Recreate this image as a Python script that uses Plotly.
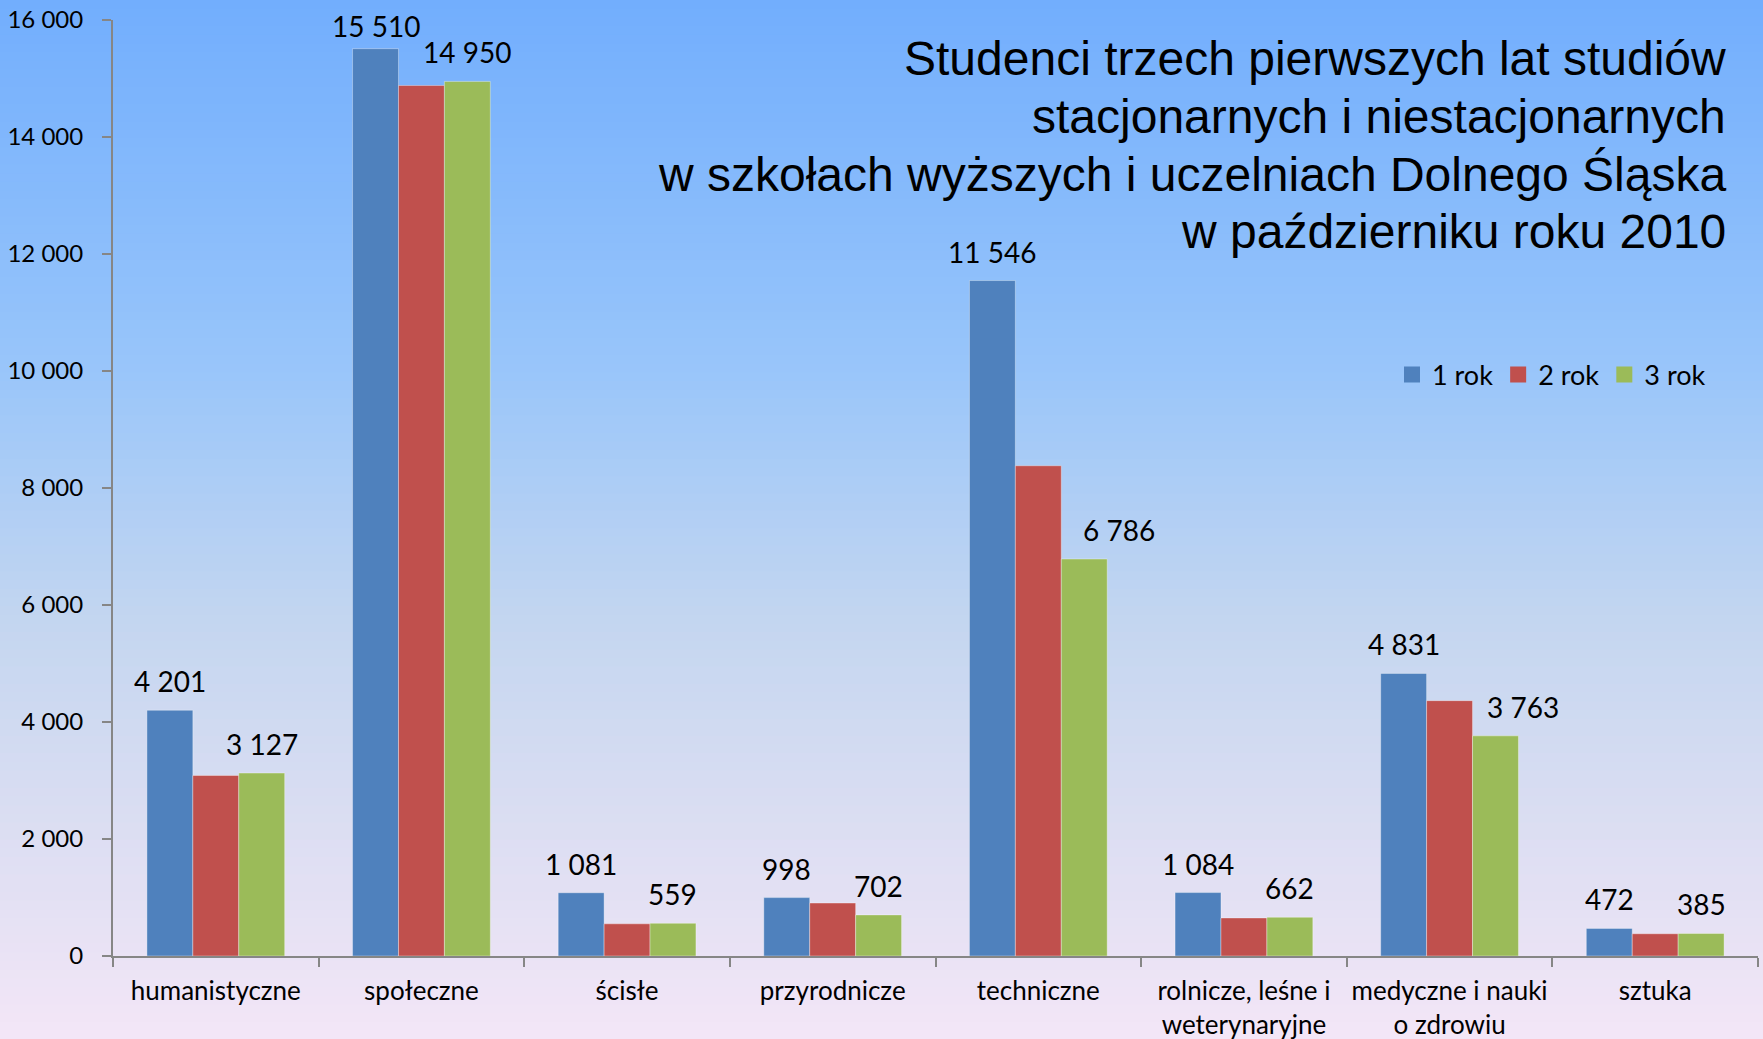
import plotly.graph_objects as go

# ---- data ----
categories = ["humanistyczne", "społeczne", "ścisłe", "przyrodnicze", "techniczne",
              "rolnicze, leśne i<br>weterynaryjne", "medyczne i nauki<br>o zdrowiu", "sztuka"]
series_names = ["1 rok", "2 rok", "3 rok"]
rok1 = [4201, 15510, 1081, 998, 11546, 1084, 4831, 472]
rok2 = [3085, 14880, 550, 905, 8380, 650, 4365, 380]
rok3 = [3127, 14950, 559, 702, 6786, 662, 3763, 385]
y_ticks = [0, 2000, 4000, 6000, 8000, 10000, 12000, 14000, 16000]
title_lines = ["Studenci trzech pierwszych lat studiów",
               "stacjonarnych i niestacjonarnych",
               "w szkołach wyższych i uczelniach Dolnego Śląska",
               "w październiku roku 2010"]

# ---- style ----
W, H = 1763, 1039
ML, MR, MT, MB = 113, 5, 20, 83
colors = ["#4F81BD", "#C0504D", "#9BBB59"]
FONT = "Lato"
bargap = 0.33
# pixel nudges for individual data labels (series index, category index) -> (dx, dy)
label_nudge = {(0, 1): (0, -6), (2, 4): (35, 0), (2, 6): (28, 0)}

plot_w = W - ML - MR
plot_h = H - MT - MB
bar_px = plot_w / len(categories) * (1 - bargap) / 3


def fmt(v):
    return f"{v:,}".replace(",", " ")


def px_x(p):
    return (p - ML) / plot_w


def px_y(p):
    return (H - MB - p) / plot_h


fig = go.Figure()
for name, vals, col in zip(series_names, [rok1, rok2, rok3], colors):
    fig.add_trace(go.Bar(x=categories, y=vals, name=name, marker_color=col,
                         marker_line=dict(color="rgba(255,255,255,0.35)", width=1),
                         showlegend=False))
    fig.add_trace(go.Scatter(x=[None], y=[None], mode="markers", name=name,
                             marker=dict(symbol="square", size=18, color=col)))

# data labels (series 1 and 3)
annotations = []
for si, vals, shift in [(0, rok1, -bar_px), (2, rok3, bar_px)]:
    for ci, (c, v) in enumerate(zip(categories, vals)):
        dx, dy = label_nudge.get((si, ci), (0, 0))
        annotations.append(dict(x=c, y=v, xref="x", yref="y", text=fmt(v), showarrow=False,
                                xshift=shift + dx, yanchor="bottom", yshift=10 + dy,
                                font=dict(family=FONT, size=28, color="black")))

title_centers = [58.5, 116.2, 174.0, 231.6]
for line, cy in zip(title_lines, title_centers):
    annotations.append(dict(xref="paper", yref="paper", x=px_x(1728), y=px_y(cy),
                            xanchor="right", yanchor="middle", align="right",
                            text=line, showarrow=False,
                            font=dict(family="Liberation Sans, Arial", size=48, color="black")))

# gradient background via strips
stops = [(0.0, (114, 174, 253)), (0.35, (152, 197, 250)), (0.6, (196, 214, 240)),
         (0.85, (226, 224, 243)), (1.0, (243, 230, 247))]


def col_at(t):
    for (t0, c0), (t1, c1) in zip(stops[:-1], stops[1:]):
        if t <= t1:
            f = (t - t0) / (t1 - t0)
            return "rgb(%d,%d,%d)" % tuple(round(a + (b - a) * f) for a, b in zip(c0, c1))
    return "rgb(%d,%d,%d)" % stops[-1][1]


shapes = []
N = 120
for i in range(N):
    p0 = H * i / N
    p1 = H * (i + 1) / N + 1
    shapes.append(dict(type="rect", xref="paper", yref="paper", layer="below",
                       x0=px_x(-2), x1=px_x(W + 2), y0=px_y(p1), y1=px_y(p0),
                       fillcolor=col_at((i + 0.5) / N), line=dict(width=0)))

fig.update_layout(
    width=W, height=H,
    margin=dict(l=ML, r=MR, t=MT, b=MB, autoexpand=False),
    barmode="group", bargap=bargap, bargroupgap=0,
    paper_bgcolor="rgb(243,230,247)", plot_bgcolor="rgba(0,0,0,0)",
    separators=", ",
    font=dict(family=FONT, color="black"),
    shapes=shapes,
    annotations=annotations,
    legend=dict(orientation="h", xref="paper", yref="paper",
                x=px_x(1392), y=px_y(375), xanchor="left", yanchor="middle",
                bgcolor="rgba(0,0,0,0)", font=dict(family=FONT, size=27, color="black"),
                itemsizing="trace", tracegroupgap=0),
    xaxis=dict(showline=True, linecolor="#868686", linewidth=2, ticks="outside",
               tickson="boundaries", ticklen=9, tickwidth=2, tickcolor="#868686",
               showgrid=False, tickfont=dict(family=FONT, size=26, color="black"),
               tickangle=0, ticklabelstandoff=11),
    yaxis=dict(range=[0, 16000], tickvals=y_ticks, tickformat=",", showline=True,
               linecolor="#868686", linewidth=2, ticks="outside", ticklen=9, tickwidth=2,
               tickcolor="#868686", showgrid=False, zeroline=False,
               tickfont=dict(family=FONT, size=24, color="black"), ticklabelstandoff=14),
)

fig.write_html("out.html", config={"displayModeBar": False},
               post_script="document.body.style.margin='0';")
